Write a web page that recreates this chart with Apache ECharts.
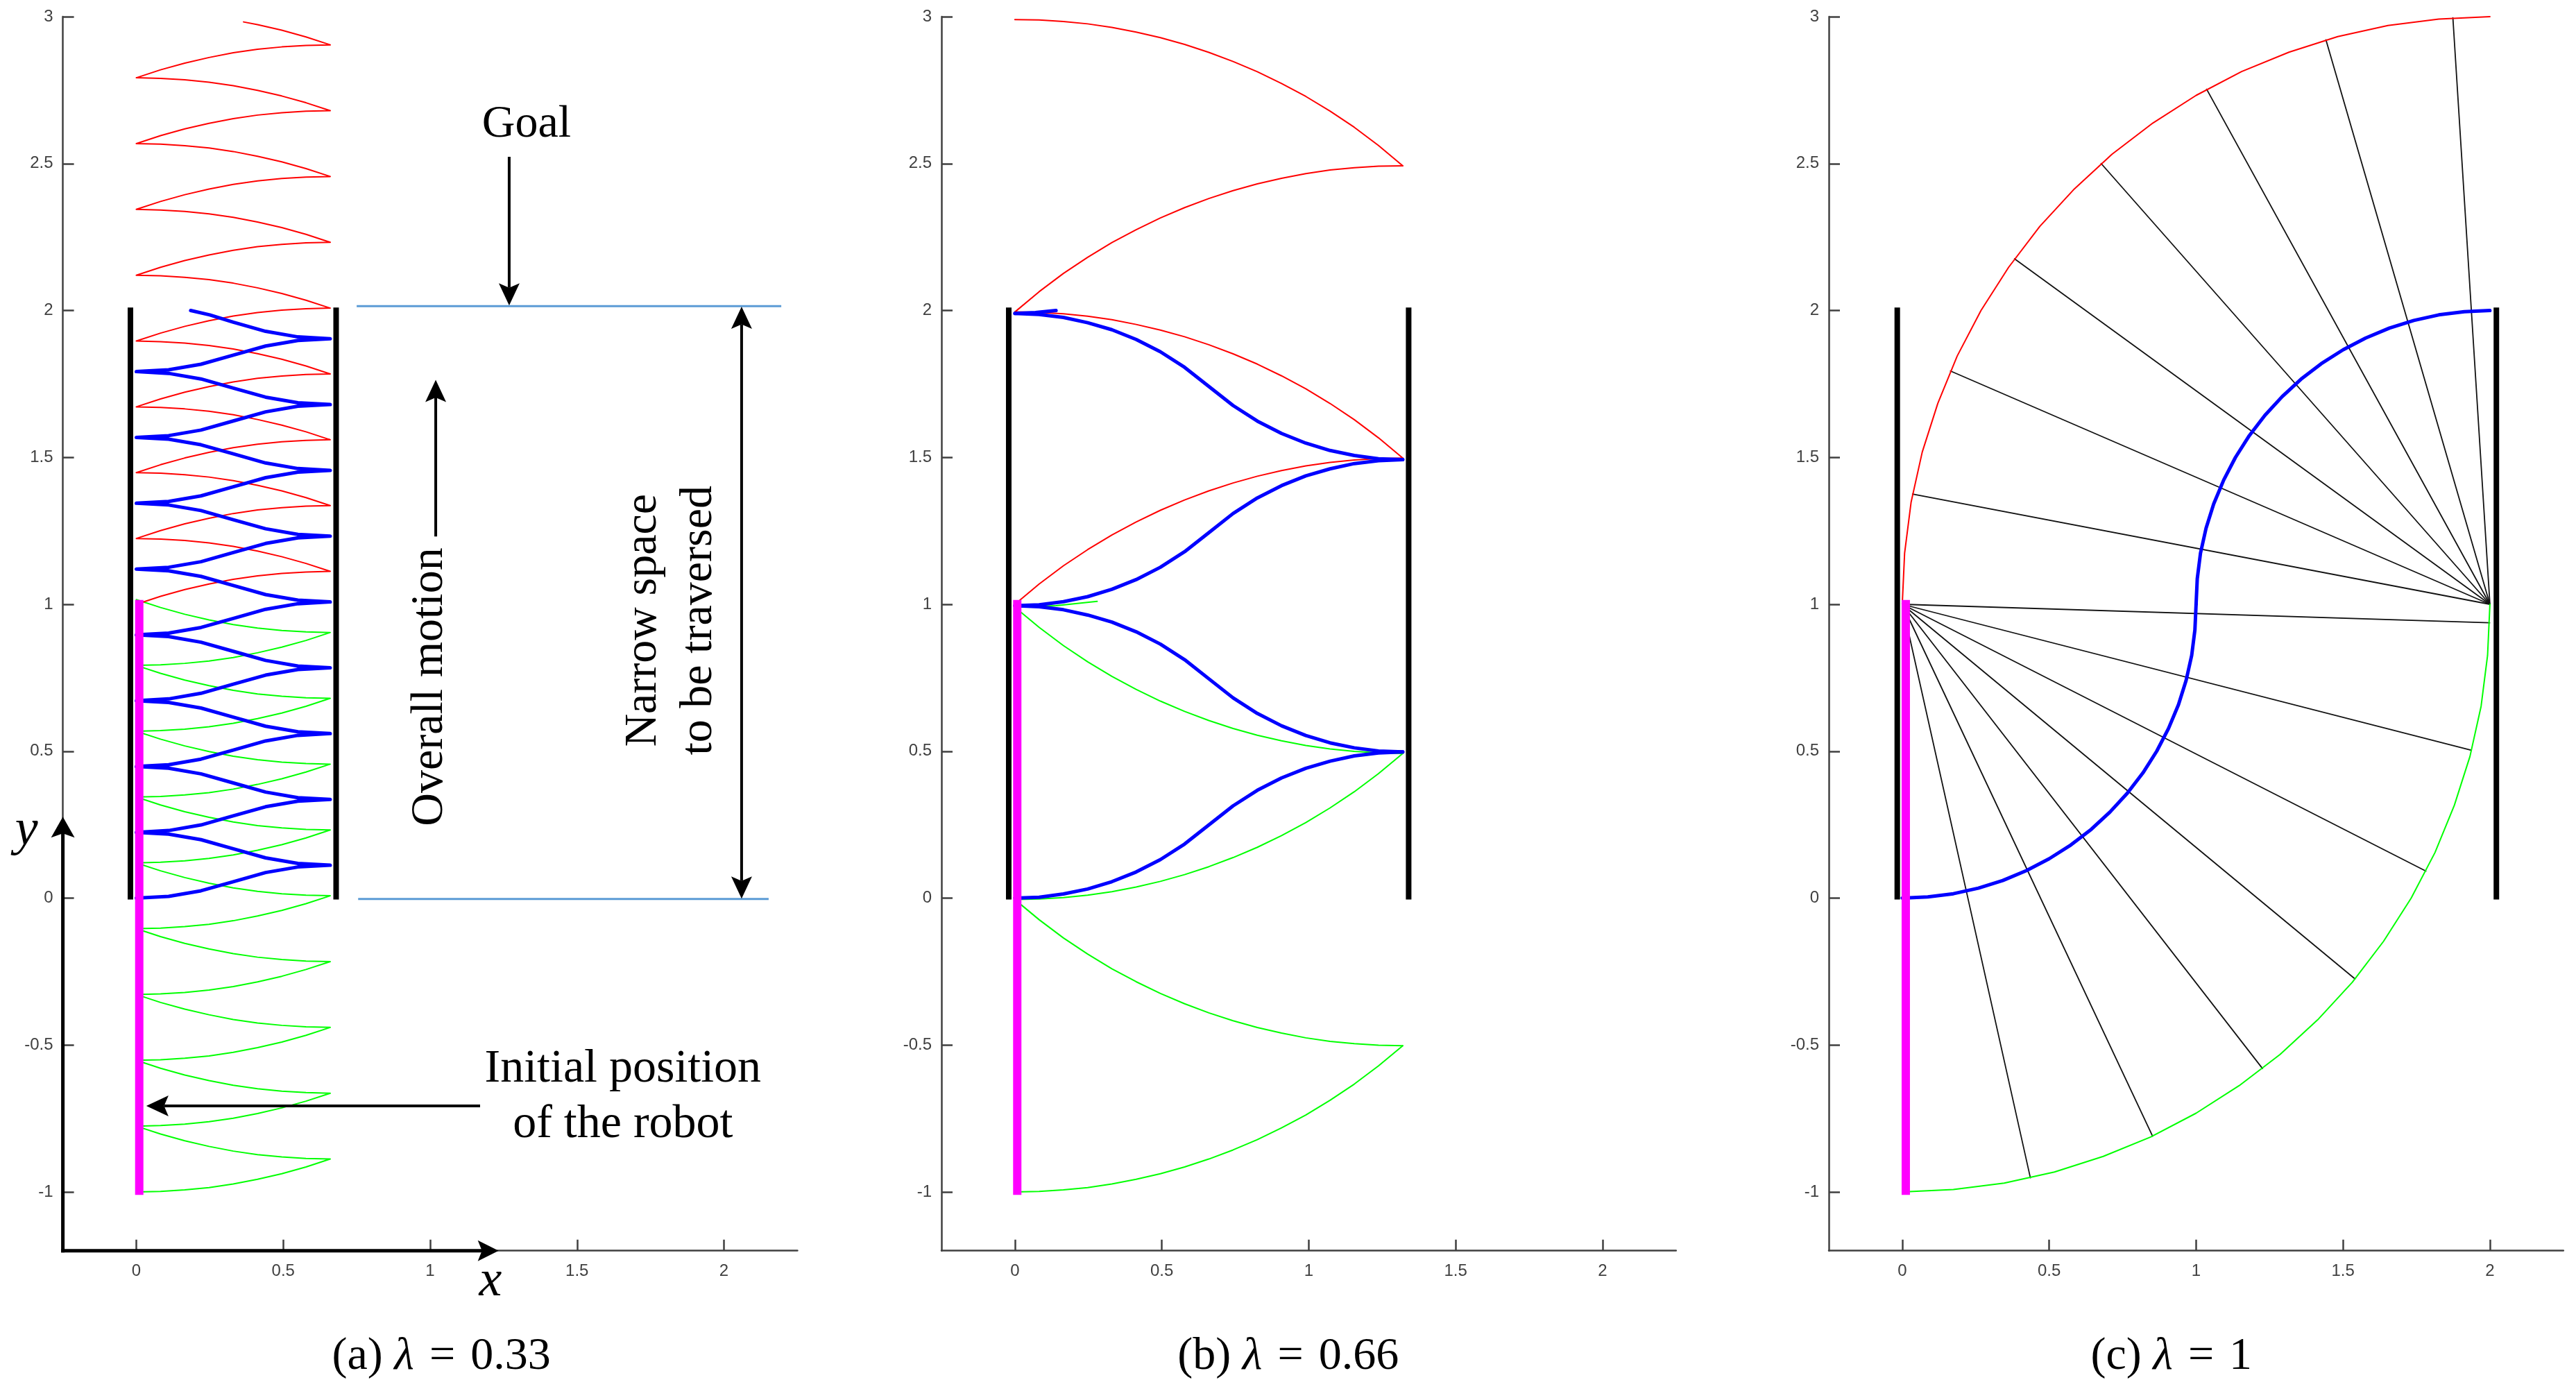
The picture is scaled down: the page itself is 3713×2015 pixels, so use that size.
<!DOCTYPE html>
<html><head><meta charset="utf-8">
<script src="https://cdn.jsdelivr.net/npm/echarts@6/dist/echarts.min.js"></script>
<style>html,body{margin:0;padding:0;background:#fff}#c{width:3713px;height:2015px}</style>
</head><body><div id="c"></div>
<script>
// ---------------- tick labels ----------------
const xTicks = [0, 0.5, 1, 1.5, 2];
const yTicks = [-1, -0.5, 0, 0.5, 1, 1.5, 2, 2.5, 3];
const captionTags = ['(a) ', '(b) ', '(c) '];
const lambdaValues = ['0.33', '0.66', '1'];

// ---------------- panel (a): lambda = 0.33 ----------------
// sample abscissae of every arc; even arcs run left->right, odd arcs right->left
const xA = [0,0.0825,0.165,0.2475,0.33,0.4125,0.495,0.5775,0.66];
const greenAy = [
[-1,-0.998,-0.993,-0.985,-0.973,-0.957,-0.938,-0.915,-0.888],
[-0.888,-0.886,-0.881,-0.873,-0.861,-0.845,-0.826,-0.803,-0.776],
[-0.776,-0.774,-0.769,-0.761,-0.749,-0.733,-0.714,-0.691,-0.664],
[-0.664,-0.662,-0.657,-0.649,-0.637,-0.621,-0.602,-0.579,-0.552],
[-0.552,-0.550,-0.545,-0.537,-0.525,-0.509,-0.490,-0.467,-0.440],
[-0.440,-0.438,-0.433,-0.425,-0.413,-0.397,-0.378,-0.355,-0.328],
[-0.328,-0.326,-0.321,-0.313,-0.301,-0.285,-0.266,-0.243,-0.216],
[-0.216,-0.214,-0.209,-0.201,-0.189,-0.173,-0.154,-0.131,-0.104],
[-0.104,-0.102,-0.097,-0.089,-0.077,-0.061,-0.042,-0.019,0.008],
[0.008,0.010,0.015,0.023,0.035,0.051,0.070,0.093,0.120],
[0.120,0.122,0.127,0.135,0.147,0.163,0.182,0.205,0.232],
[0.232,0.234,0.239,0.247,0.259,0.275,0.294,0.317,0.344],
[0.344,0.346,0.351,0.359,0.371,0.387,0.406,0.429,0.456],
[0.456,0.458,0.463,0.471,0.483,0.499,0.518,0.541,0.568],
[0.568,0.570,0.575,0.583,0.595,0.611,0.630,0.653,0.680],
[0.680,0.682,0.687,0.695,0.707,0.723,0.742,0.765,0.792],
[0.792,0.794,0.799,0.807,0.819,0.835,0.854,0.877,0.904],
[0.904,0.906,0.911,0.919,0.931,0.947,0.966,0.989,1.016]
];
const redAy = [
[1.000,1.027,1.050,1.069,1.085,1.097,1.105,1.110,1.112],
[1.112,1.139,1.162,1.181,1.197,1.209,1.217,1.222,1.224],
[1.224,1.251,1.274,1.293,1.309,1.321,1.329,1.334,1.336],
[1.336,1.363,1.386,1.405,1.421,1.433,1.441,1.446,1.448],
[1.448,1.475,1.498,1.517,1.533,1.545,1.553,1.558,1.560],
[1.560,1.587,1.610,1.629,1.645,1.657,1.665,1.670,1.672],
[1.672,1.699,1.722,1.741,1.757,1.769,1.777,1.782,1.784],
[1.784,1.811,1.834,1.853,1.869,1.881,1.889,1.894,1.896],
[1.896,1.923,1.946,1.965,1.981,1.993,2.001,2.006,2.008],
[2.008,2.035,2.058,2.077,2.093,2.105,2.113,2.118,2.120],
[2.120,2.147,2.170,2.189,2.205,2.217,2.225,2.230,2.232],
[2.232,2.259,2.282,2.301,2.317,2.329,2.337,2.342,2.344],
[2.344,2.371,2.394,2.413,2.429,2.441,2.449,2.454,2.456],
[2.456,2.483,2.506,2.525,2.541,2.553,2.561,2.566,2.568],
[2.568,2.595,2.618,2.637,2.653,2.665,2.673,2.678,2.680],
[2.680,2.707,2.730,2.749,2.765,2.777,2.785,2.790,2.792],
[2.792,2.819,2.842,2.861,2.877,2.889,2.897,2.902,2.904]
];
const redATail = [[0.66,2.904],[0.5775,2.931],[0.495,2.954],[0.4125,2.973],[0.365,2.982]];
const blueA = [
[0,0],[0.11,0.006],[0.22,0.025],[0.33,0.056],[0.44,0.087],[0.55,0.106],[0.66,0.112],
[0.55,0.118],[0.44,0.137],[0.33,0.168],[0.22,0.199],[0.11,0.218],[0,0.224],
[0.11,0.230],[0.22,0.249],[0.33,0.280],[0.44,0.311],[0.55,0.330],[0.66,0.336],
[0.55,0.342],[0.44,0.361],[0.33,0.392],[0.22,0.423],[0.11,0.442],[0,0.448],
[0.11,0.454],[0.22,0.473],[0.33,0.504],[0.44,0.535],[0.55,0.554],[0.66,0.560],
[0.55,0.566],[0.44,0.585],[0.33,0.616],[0.22,0.647],[0.11,0.666],[0,0.672],
[0.11,0.678],[0.22,0.697],[0.33,0.728],[0.44,0.759],[0.55,0.778],[0.66,0.784],
[0.55,0.790],[0.44,0.809],[0.33,0.840],[0.22,0.871],[0.11,0.890],[0,0.896],
[0.11,0.902],[0.22,0.921],[0.33,0.952],[0.44,0.983],[0.55,1.002],[0.66,1.008],
[0.55,1.014],[0.44,1.033],[0.33,1.064],[0.22,1.095],[0.11,1.114],[0,1.120],
[0.11,1.126],[0.22,1.145],[0.33,1.176],[0.44,1.207],[0.55,1.226],[0.66,1.232],
[0.55,1.238],[0.44,1.257],[0.33,1.288],[0.22,1.319],[0.11,1.338],[0,1.344],
[0.11,1.350],[0.22,1.369],[0.33,1.400],[0.44,1.431],[0.55,1.450],[0.66,1.456],
[0.55,1.462],[0.44,1.481],[0.33,1.512],[0.22,1.543],[0.11,1.562],[0,1.568],
[0.11,1.574],[0.22,1.593],[0.33,1.624],[0.44,1.655],[0.55,1.674],[0.66,1.680],
[0.55,1.686],[0.44,1.705],[0.33,1.736],[0.22,1.767],[0.11,1.786],[0,1.792],
[0.11,1.798],[0.22,1.817],[0.33,1.848],[0.44,1.879],[0.55,1.898],[0.66,1.904],
[0.55,1.910],[0.44,1.929],[0.33,1.960],[0.25,1.985],[0.185,2.000]
];

// ---------------- panel (b): lambda = 0.66 ----------------
const xB = [0,0.0825,0.165,0.2475,0.33,0.4125,0.495,0.5775,0.66,0.7425,0.825,0.9075,0.99,1.0725,1.155,1.2375,1.32];
const greenBy = [
[-1,-0.998,-0.993,-0.985,-0.973,-0.957,-0.938,-0.915,-0.888,-0.857,-0.822,-0.782,-0.738,-0.688,-0.633,-0.571,-0.5025],
[-0.5025,-0.5005,-0.4955,-0.4875,-0.4755,-0.4595,-0.4405,-0.4175,-0.3905,-0.3595,-0.3245,-0.2845,-0.2405,-0.1905,-0.1355,-0.0735,-0.005],
[-0.005,-0.003,0.002,0.010,0.022,0.038,0.057,0.080,0.107,0.138,0.173,0.213,0.257,0.307,0.362,0.424,0.4925],
[0.4925,0.4945,0.4995,0.5075,0.5195,0.5355,0.5545,0.5775,0.6045,0.6355,0.6705,0.7105,0.7545,0.8045,0.8595,0.9215,0.99]
];
const greenBTail = [[0,0.990],[0.14,0.995],[0.28,1.010]];
const redBy = [
[1.0,1.069,1.131,1.186,1.236,1.280,1.320,1.355,1.386,1.413,1.436,1.455,1.471,1.483,1.491,1.496,1.4975],
[1.4975,1.5665,1.6285,1.6835,1.7335,1.7775,1.8175,1.8525,1.8835,1.9105,1.9335,1.9525,1.9685,1.9805,1.9885,1.9935,1.995],
[1.995,2.064,2.126,2.181,2.231,2.275,2.315,2.350,2.381,2.408,2.431,2.450,2.466,2.478,2.486,2.491,2.4925],
[2.4925,2.5615,2.6235,2.6785,2.7285,2.7725,2.8125,2.8475,2.8785,2.9055,2.9285,2.9475,2.9635,2.9755,2.9835,2.9885,2.99]
];
const blueBy = [
[0,0.003,0.014,0.031,0.056,0.089,0.131,0.184,0.249,0.314,0.367,0.409,0.442,0.466,0.484,0.494,0.4975],
[0.4975,0.5005,0.5115,0.5285,0.5535,0.5865,0.6285,0.6815,0.7465,0.8115,0.8645,0.9065,0.9395,0.9635,0.9815,0.9915,0.995],
[0.995,0.998,1.009,1.026,1.051,1.084,1.126,1.179,1.244,1.309,1.362,1.404,1.437,1.461,1.479,1.489,1.4925],
[1.4925,1.4955,1.5065,1.5235,1.5485,1.5815,1.6235,1.6765,1.7415,1.8065,1.8595,1.9015,1.9345,1.9585,1.9765,1.9865,1.99]
];
const blueBTail = [[0,1.990],[0.07,1.993],[0.14,2.0]];

// ---------------- panel (c): lambda = 1 ----------------
const greenC = [[0,-1],[0.174,-0.992],[0.347,-0.970],[0.518,-0.932],[0.684,-0.879],[0.845,-0.813],[1.0,-0.732],[1.147,-0.638],[1.286,-0.532],[1.414,-0.414],[1.532,-0.286],[1.638,-0.147],[1.732,0],[1.813,0.155],[1.879,0.316],[1.932,0.482],[1.970,0.653],[1.992,0.826],[2,1]];
const redC = [[0,1],[0.008,1.174],[0.030,1.347],[0.068,1.518],[0.121,1.684],[0.187,1.845],[0.268,2.0],[0.362,2.147],[0.468,2.286],[0.586,2.414],[0.714,2.532],[0.853,2.638],[1.0,2.732],[1.155,2.813],[1.316,2.879],[1.482,2.932],[1.653,2.970],[1.826,2.992],[2,3]];
const blueC = [
[[0,0],[0.087,0.004],[0.174,0.015],[0.259,0.034],[0.342,0.060],[0.423,0.094],[0.5,0.134],[0.574,0.181],[0.643,0.234],[0.707,0.293],[0.766,0.357],[0.819,0.426],[0.866,0.5],[0.906,0.577],[0.940,0.658],[0.966,0.741],[0.985,0.826],[0.996,0.913],[1,1]],
[[1,1],[1.004,1.087],[1.015,1.174],[1.034,1.259],[1.060,1.342],[1.094,1.423],[1.134,1.5],[1.181,1.574],[1.234,1.643],[1.293,1.707],[1.357,1.766],[1.426,1.819],[1.5,1.866],[1.577,1.906],[1.658,1.940],[1.741,1.966],[1.826,1.985],[1.913,1.996],[2,2]]
];
const pivotLowC = [0, 1];
const lowEndsC = [[0.436,-0.952],[0.852,-0.810],[1.226,-0.580],[1.541,-0.275],[1.782,0.092],[1.937,0.503],[1.999,0.937]];
const pivotHighC = [2, 1];
const highEndsC = [[0.035,1.375],[0.164,1.794],[0.382,2.176],[0.677,2.500],[1.036,2.753],[1.442,2.921],[1.874,2.996]];

// ---------------- walls and initial robot ----------------
const wallsX = [[-0.02, 0.68], [-0.021, 1.34], [-0.017, 2.022]];
const wallY = [-0.005, 2.01];
const robotX = [0.01, 0.008, 0.012];
const robotY = [-1.01, 1.015];

// ---------------- annotations of panel (a), data coordinates ----------------
const goalLine = [[0.75, 2.015], [2.195, 2.015]];
const startLine = [[0.755, -0.003], [2.152, -0.003]];
const goalArrow = [[1.269, 2.523], [1.269, 2.017]];
const motionArrow = [[1.019, 1.231], [1.019, 1.764]];
const spanArrow = [[2.06, -0.002], [2.06, 2.013]];
const initArrow = [[1.170, -0.707], [0.034, -0.707]];
const yAxisArrow = [[-0.25, -1.2], [-0.25, 0.277]];
const xAxisArrow = [[-0.25, -1.2], [1.233, -1.2]];
const goalText = {pos: [1.328, 2.632], text: 'Goal'};
const motionText = {pos: [0.999, 0.719], text: 'Overall motion'};
const spanText = {pos: [1.822, 0.945], text: 'Narrow space\nto be traversed'};
const initText = {pos: [1.656, -0.678], text: 'Initial position\nof the robot'};
const yLabel = {pos: [-0.374, 0.230], text: 'y'};
const xLabel = {pos: [1.205, -1.305], text: 'x'};
const captionPos = [[1.038, -1.562], [0.930, -1.562], [0.916, -1.562]];

// ---------------- layout ----------------
const gridLefts = [90.6, 1357, 2636];
const GT = 24, GW = 1058.8, GH = 1778.7;
const AXC = '#404040';
const SERIF = '"Liberation Serif", "Times New Roman", serif';

const grids = gridLefts.map(l => ({left: l, top: GT, width: GW, height: GH}));
const xAxes = gridLefts.map((l, i) => ({
  gridIndex: i, type: 'value', min: -0.25, max: 2.25,
  axisLine: {show: true, onZero: false, lineStyle: {color: AXC, width: 2.5}},
  axisTick: {show: true, inside: true, length: 16, customValues: xTicks, lineStyle: {color: AXC, width: 2.5}},
  axisLabel: {show: true, customValues: xTicks, formatter: v => String(v), fontSize: 24, color: AXC,
              fontFamily: '"Liberation Sans", Arial, sans-serif', margin: 18},
  splitLine: {show: false}
}));
const yAxes = gridLefts.map((l, i) => ({
  gridIndex: i, type: 'value', min: -1.2, max: 3,
  axisLine: {show: true, onZero: false, lineStyle: {color: AXC, width: 2.5}},
  axisTick: {show: true, inside: true, length: 16, customValues: yTicks, lineStyle: {color: AXC, width: 2.5}},
  axisLabel: {show: true, customValues: yTicks, formatter: v => String(v), fontSize: 24, color: AXC,
              fontFamily: '"Liberation Sans", Arial, sans-serif', margin: 14},
  splitLine: {show: false}
}));

function ls(g, data, color, width, extra) {
  const s = {
    type: 'line', xAxisIndex: g, yAxisIndex: g, data: data, symbol: 'none', showSymbol: false,
    silent: true, animation: false, clip: false,
    lineStyle: {color: color, width: width, join: 'round', cap: 'round'}
  };
  if (extra && extra.cap) s.lineStyle.cap = extra.cap;
  return s;
}
// pair shared abscissae with each arc's ordinates (alternating direction)
function arcPts(xs, ys, k) {
  const xx = (k % 2 === 0) ? xs : xs.slice().reverse();
  return ys.map((y, i) => [xx[i], y]);
}
// join consecutive arcs into one polyline
function chain(xs, arcs) {
  const out = [];
  arcs.forEach((ys, k) => arcPts(xs, ys, k).forEach((p, i) => { if (k === 0 || i > 0) out.push(p); }));
  return out;
}

const RED = '#ff0000', GREEN = '#00ff00', BLUE = '#0000ff', MAG = '#ff00ff';
const series = [];
// panel (a)
series.push(ls(0, chain(xA, greenAy), GREEN, 2));
series.push(ls(0, chain(xA, redAy).concat(redATail.slice(1)), RED, 2));
series.push(ls(0, blueA, BLUE, 5));
series.push(ls(0, goalLine, '#5b9bd5', 3, {cap: 'butt'}));
series.push(ls(0, startLine, '#5b9bd5', 3, {cap: 'butt'}));
// panel (b)
greenBy.forEach((ys, k) => series.push(ls(1, arcPts(xB, ys, k), GREEN, 2)));
series.push(ls(1, greenBTail, GREEN, 2));
redBy.forEach((ys, k) => series.push(ls(1, arcPts(xB, ys, k), RED, 2)));
blueBy.forEach((ys, k) => series.push(ls(1, arcPts(xB, ys, k), BLUE, 5)));
series.push(ls(1, blueBTail, BLUE, 5));
// panel (c)
lowEndsC.forEach(e => series.push(ls(2, [pivotLowC, e], '#111', 1.8)));
highEndsC.forEach(e => series.push(ls(2, [pivotHighC, e], '#111', 1.8)));
series.push(ls(2, greenC, GREEN, 2));
series.push(ls(2, redC, RED, 2));
blueC.forEach(a => series.push(ls(2, a, BLUE, 5)));
// walls and robots
for (let g = 0; g < 3; g++) {
  wallsX[g].forEach(wx => series.push(ls(g, [[wx, wallY[0]], [wx, wallY[1]]], '#000', 8, {cap: 'butt'})));
  series.push(ls(g, [[robotX[g], robotY[0]], [robotX[g], robotY[1]]], MAG, 12, {cap: 'butt'}));
}

const chart = echarts.init(document.getElementById('c'), null, {renderer: 'canvas', width: 3713, height: 2015});
chart.setOption({
  backgroundColor: '#ffffff', animation: false,
  grid: grids, xAxis: xAxes, yAxis: yAxes, series: series
});

// ---------------- graphic annotations ----------------
const gfx = [];
const px = (g, p) => chart.convertToPixel({gridIndex: g}, p);
function arrow(g, seg, opt) {
  const a = px(g, seg[0]), b = px(g, seg[1]);
  const dx = b[0] - a[0], dy = b[1] - a[1];
  const len = Math.hypot(dx, dy);
  const ux = dx / len, uy = dy / len, nx = -uy, ny = ux;
  const L = opt.L || 32, W = opt.W || 30, lw = opt.lw || 4;
  const head = (t, sx, sy) => ({
    type: 'polygon', z: 100,
    shape: {points: [
      [t[0], t[1]],
      [t[0] - sx * L + nx * W / 2, t[1] - sy * L + ny * W / 2],
      [t[0] - sx * L * 0.8, t[1] - sy * L * 0.8],
      [t[0] - sx * L - nx * W / 2, t[1] - sy * L - ny * W / 2]
    ]},
    style: {fill: '#000'}
  });
  let s0 = a.slice(), s1 = [b[0] - ux * L * 0.8, b[1] - uy * L * 0.8];
  if (opt.both) s0 = [a[0] + ux * L * 0.8, a[1] + uy * L * 0.8];
  gfx.push({type: 'line', z: 99, shape: {x1: s0[0], y1: s0[1], x2: s1[0], y2: s1[1]},
            style: {stroke: '#000', lineWidth: lw, lineCap: opt.cap || 'butt'}});
  gfx.push(head(b, ux, uy));
  if (opt.both) gfx.push(head(a, -ux, -uy));
}
arrow(0, goalArrow, {lw: 4});
arrow(0, motionArrow, {lw: 4});
arrow(0, spanArrow, {lw: 4, both: true});
arrow(0, initArrow, {lw: 4});
arrow(0, yAxisArrow, {lw: 5, L: 30, W: 34, cap: 'square'});
arrow(0, xAxisArrow, {lw: 5, L: 30, W: 30, cap: 'square'});

function text(g, t, font, rot, lh) {
  const p = px(g, t.pos);
  const el = {type: 'text', z: 101, x: p[0], y: p[1],
    style: {text: t.text, font: font, fill: '#000', align: 'center', verticalAlign: 'middle'}};
  if (rot) el.rotation = rot;
  if (lh) el.style.lineHeight = lh;
  gfx.push(el);
}
text(0, goalText, '66px ' + SERIF);
text(0, motionText, '66px ' + SERIF, Math.PI / 2);
text(0, spanText, '66px ' + SERIF, Math.PI / 2, 80);
text(0, initText, '68px ' + SERIF, 0, 80);
text(0, yLabel, 'italic 74px ' + SERIF);
text(0, xLabel, 'italic 74px ' + SERIF);

for (let g = 0; g < 3; g++) {
  const p = px(g, captionPos[g]);
  gfx.push({type: 'text', z: 101, x: p[0], y: p[1], style: {
    text: '{n|' + captionTags[g] + '}{i|\u03bb}{n|\u2004=\u2004' + lambdaValues[g] + '}',
    align: 'center', verticalAlign: 'middle',
    rich: {
      n: {fontFamily: SERIF, fontSize: 66, fill: '#000', color: '#000'},
      i: {fontFamily: SERIF, fontSize: 66, fontStyle: 'italic', fill: '#000', color: '#000'}
    }
  }});
}
chart.setOption({graphic: gfx});
</script></body></html>
